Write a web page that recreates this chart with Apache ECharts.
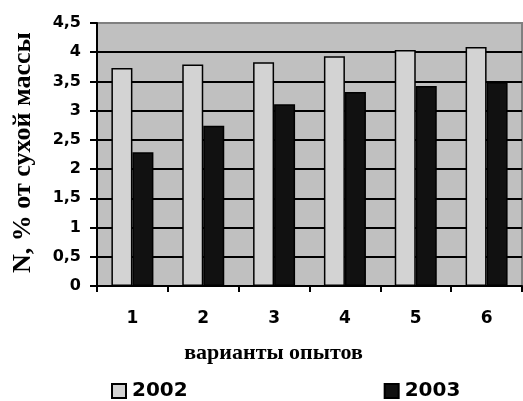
<!DOCTYPE html>
<html>
<head>
<meta charset="utf-8">
<script src="https://cdn.jsdelivr.net/npm/echarts@6/dist/echarts.min.js"></script>
<style>
html,body{margin:0;padding:0;background:#fff;}
#c{width:523px;height:401px;}
</style>
</head>
<body>
<div id="c"></div>
<script>
const categories = ['1', '2', '3', '4', '5', '6'];
const series2002 = [3.73, 3.79, 3.83, 3.93, 4.04, 4.09];
const series2003 = [2.29, 2.74, 3.11, 3.32, 3.42, 3.49];
const seriesNames = ['2002', '2003'];
const yTicks = { min: 0, max: 4.5, interval: 0.5 };
const xName = 'варианты опытов';
const yName = 'N, % от сухой массы';

const chart = echarts.init(document.getElementById('c'), null, { renderer: 'canvas' });
const sans = '"DejaVu Sans", sans-serif';
const serif = '"Liberation Serif", "Times New Roman", serif';
const splitColors = ['#000','#000','#000','#000','#000','#000','#000','#000','#000','#808080'];

chart.setOption({
  animation: false,
  backgroundColor: '#fff',
  grid: {
    left: 97, right: 1, top: 23, bottom: 115,
    show: true, backgroundColor: '#c0c0c0', borderColor: '#808080', borderWidth: 2
  },
  legend: {
    data: seriesNames,
    left: 111, top: 381, padding: 0,
    itemWidth: 14, itemHeight: 14, itemGap: 196,
    icon: 'rect',
    textStyle: { fontFamily: sans, fontWeight: 'bold', fontSize: 20, color: '#000', padding: [0,0,0,1] }
  },
  xAxis: {
    type: 'category',
    data: categories,
    name: xName,
    nameLocation: 'middle',
    nameGap: 56,
    nameTextStyle: { fontFamily: serif, fontWeight: 'bold', fontSize: 22, color: '#000', padding: [0, 72, 0, 0] },
    axisLine: { lineStyle: { color: '#000', width: 2 } },
    axisTick: { show: true, length: 6, lineStyle: { color: '#000', width: 2 } },
    axisLabel: { margin: 24, fontFamily: sans, fontWeight: 'bold', fontSize: 17, color: '#000' },
    splitLine: { show: false }
  },
  yAxis: {
    type: 'value',
    min: yTicks.min, max: yTicks.max, interval: yTicks.interval,
    name: yName,
    nameLocation: 'middle',
    nameGap: 61,
    nameRotate: 90,
    nameTextStyle: { fontFamily: serif, fontWeight: 'bold', fontSize: 26, color: '#000', padding: [0, 0, 0, 4] },
    axisLine: { show: true, lineStyle: { color: '#000', width: 2 } },
    axisTick: { show: true, length: 7, lineStyle: { color: '#000', width: 2 } },
    axisLabel: {
      margin: 16, fontFamily: sans, fontWeight: 'bold', fontSize: 16, color: '#000',
      formatter: v => String(v).replace('.', ',')
    },
    splitLine: { show: true, lineStyle: { color: splitColors, width: 2 } }
  },
  series: [
    {
      name: seriesNames[0], type: 'bar', data: series2002,
      barWidth: 21, barGap: '0%',
      itemStyle: { color: '#d3d3d3', borderColor: '#000', borderWidth: 1.5 }
    },
    {
      name: seriesNames[1], type: 'bar', data: series2003,
      barWidth: 21, barGap: '0%',
      itemStyle: { color: '#111111', borderColor: '#000', borderWidth: 1.5 }
    }
  ]
});
</script>
</body>
</html>
